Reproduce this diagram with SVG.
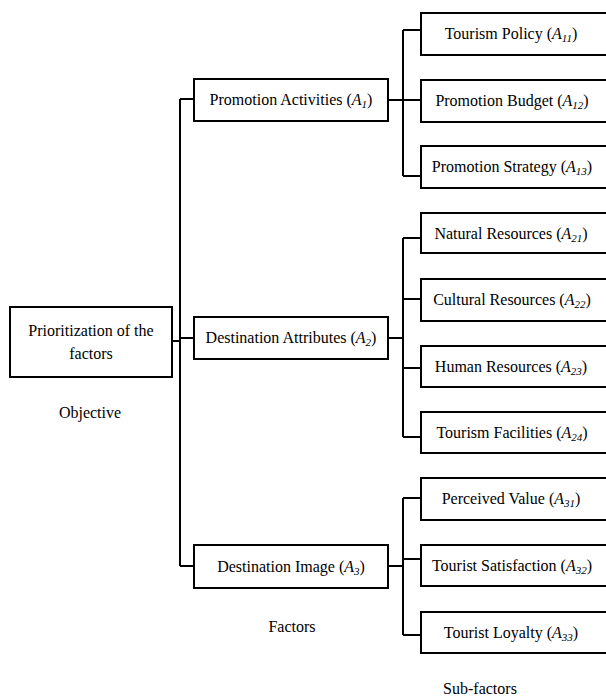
<svg xmlns="http://www.w3.org/2000/svg" width="606" height="697" viewBox="0 0 606 697">
<style>
.box{fill:#fff;stroke:#000;stroke-width:2}
.ln{fill:none;stroke:#000;stroke-width:2}
text{font-family:'Liberation Serif','Times New Roman','DejaVu Serif',serif;font-size:16px;fill:#000;text-anchor:middle}
.i{font-style:italic}
.s{font-style:italic;font-size:11px}
</style>
<rect width="606" height="697" fill="#fff"/>
<g id="connectors">
<path class="ln" d="M172 341H180M180 99V566M180 99H194M180 338H194M180 566H194"/>
<path class="ln" d="M388 100H403M403 30V176M403 30H421M403 100H421M403 176H421"/>
<path class="ln" d="M388 338H403M403 238V437M403 238H421M403 299H421M403 368H421M403 437H421"/>
<path class="ln" d="M388 566H403M403 498V635M403 498H421M403 559H421M403 635H421"/>
</g>
<g id="objective" font-family="Liberation Serif, serif">
<rect class="box" x="10" y="307" width="162" height="70"/>
<text x="91" y="336">Prioritization of the</text>
<text x="91" y="359">factors</text>
</g>
<g id="A1">
<rect class="box" x="194" y="79" width="194" height="42"/>
<text x="291" y="105">Promotion Activities (<tspan class="i">A</tspan><tspan class="s" dy="3">1</tspan><tspan dy="-3">)</tspan></text>
</g>
<g id="A2">
<rect class="box" x="194" y="317" width="194" height="42"/>
<text x="291" y="343">Destination Attributes (<tspan class="i">A</tspan><tspan class="s" dy="3">2</tspan><tspan dy="-3">)</tspan></text>
</g>
<g id="A3">
<rect class="box" x="194" y="545" width="194" height="43"/>
<text x="291" y="572">Destination Image (<tspan class="i">A</tspan><tspan class="s" dy="3">3</tspan><tspan dy="-3">)</tspan></text>
</g>
<g id="A11">
<rect class="box" x="421" y="13" width="200" height="42"/>
<text x="511" y="39">Tourism Policy (<tspan class="i">A</tspan><tspan class="s" dy="3">11</tspan><tspan dy="-3">)</tspan></text>
</g>
<g id="A12">
<rect class="box" x="421" y="80" width="200" height="42"/>
<text x="512" y="106">Promotion Budget (<tspan class="i">A</tspan><tspan class="s" dy="3">12</tspan><tspan dy="-3">)</tspan></text>
</g>
<g id="A13">
<rect class="box" x="421" y="146" width="200" height="42"/>
<text x="512" y="172">Promotion Strategy (<tspan class="i">A</tspan><tspan class="s" dy="3">13</tspan><tspan dy="-3">)</tspan></text>
</g>
<g id="A21">
<rect class="box" x="421" y="213" width="200" height="40"/>
<text x="511" y="239">Natural Resources (<tspan class="i">A</tspan><tspan class="s" dy="3">21</tspan><tspan dy="-3">)</tspan></text>
</g>
<g id="A22">
<rect class="box" x="421" y="279" width="200" height="42"/>
<text x="512" y="305">Cultural Resources (<tspan class="i">A</tspan><tspan class="s" dy="3">22</tspan><tspan dy="-3">)</tspan></text>
</g>
<g id="A23">
<rect class="box" x="421" y="346" width="200" height="41"/>
<text x="511" y="372">Human Resources (<tspan class="i">A</tspan><tspan class="s" dy="3">23</tspan><tspan dy="-3">)</tspan></text>
</g>
<g id="A24">
<rect class="box" x="421" y="412" width="200" height="41"/>
<text x="512" y="438">Tourism Facilities (<tspan class="i">A</tspan><tspan class="s" dy="3">24</tspan><tspan dy="-3">)</tspan></text>
</g>
<g id="A31">
<rect class="box" x="421" y="478" width="200" height="42"/>
<text x="511" y="504">Perceived Value (<tspan class="i">A</tspan><tspan class="s" dy="3">31</tspan><tspan dy="-3">)</tspan></text>
</g>
<g id="A32">
<rect class="box" x="421" y="545" width="200" height="41"/>
<text x="512" y="571">Tourist Satisfaction (<tspan class="i">A</tspan><tspan class="s" dy="3">32</tspan><tspan dy="-3">)</tspan></text>
</g>
<g id="A33">
<rect class="box" x="421" y="612" width="200" height="41"/>
<text x="511" y="638">Tourist Loyalty (<tspan class="i">A</tspan><tspan class="s" dy="3">33</tspan><tspan dy="-3">)</tspan></text>
</g>
<g id="labels">
<text x="90" y="418">Objective</text>
<text x="292" y="632">Factors</text>
<text x="480" y="694">Sub-factors</text>
</g>
</svg>
